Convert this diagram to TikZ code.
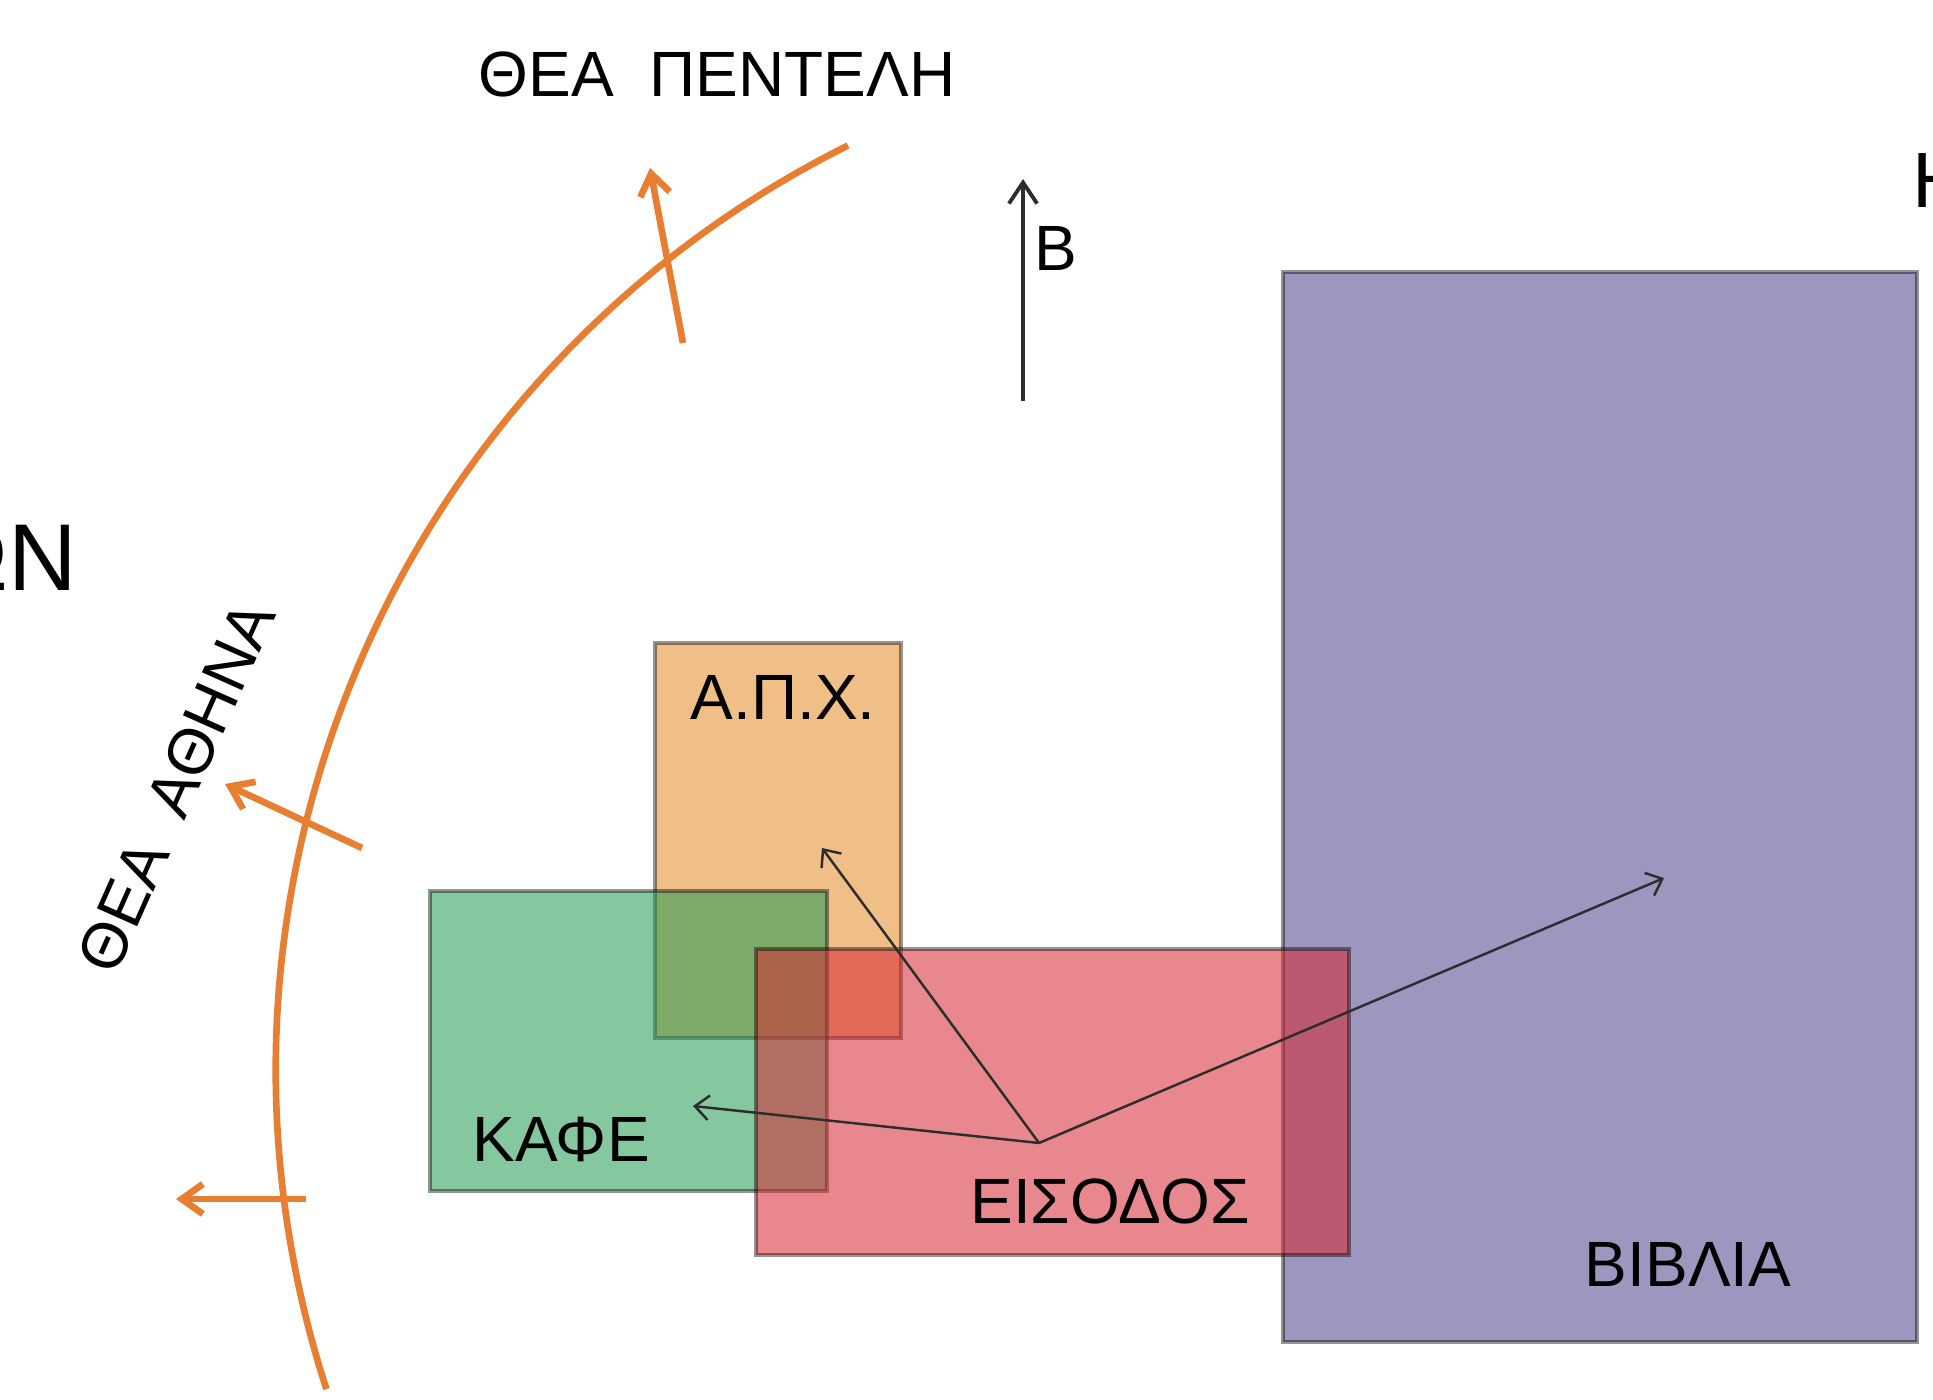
\documentclass[tikz,border=0pt]{standalone}
\usepackage{fontspec}
\setmainfont{Liberation Sans}
\usetikzlibrary{arrows.meta}

\definecolor{viewline}{RGB}{232,126,49}
\definecolor{apxfill}{RGB}{228,137,37}
\definecolor{kafefill}{RGB}{33,153,80}
\definecolor{eisodosfill}{RGB}{213,39,50}
\definecolor{vivliafill}{RGB}{77,66,139}
\definecolor{walkline}{RGB}{45,45,45}

\begin{document}
\begin{tikzpicture}[x=0.01cm, y=-0.01cm,
  zone/.style={rectangle, draw=black, draw opacity=0.42, line width=1.2pt, fill opacity=0.55, inner sep=0pt, outer sep=0pt},
  lbl/.style={inner sep=0pt, font=\fontsize{18.2}{20}\selectfont},
  view/.style={draw=viewline, line width=1.9pt, -{Straight Barb[length=6pt, width=8.5pt]}},
  northline/.style={draw=walkline, line width=1.1pt, -{Straight Barb[length=6pt, width=8pt]}},
  walk/.style={draw=walkline, line width=0.7pt, -{Straight Barb[length=4pt, width=7pt]}}]
\useasboundingbox (0,0) rectangle (1933,1400);
\node[zone, fill=apxfill, minimum width=2.46cm, minimum height=3.95cm] (apx) at (778,840.5) {};
\node[zone, fill=kafefill, minimum width=3.97cm, minimum height=3.00cm] (kafe) at (628.5,1041) {};
\node[zone, fill=vivliafill, minimum width=6.34cm, minimum height=10.70cm] (vivlia) at (1600,807) {};
\node[zone, fill=eisodosfill, minimum width=5.93cm, minimum height=3.06cm] (eisodos) at (1052.5,1102) {};
\node[lbl, anchor=base] (apxlbl) at (783,719) {Α.Π.Χ.};
\node[lbl, anchor=base] (kafelbl) at (561,1161) {ΚΑΦΕ};
\node[lbl, anchor=base] (eisodoslbl) at (1110,1223) {ΕΙΣΟΔΟΣ};
\node[lbl, anchor=base] (vivlialbl) at (1688,1286) {ΒΙΒΛΙΑ};
\coordinate (door) at (1039,1143);
\coordinate (apxend) at (822,848);
\coordinate (kafeend) at (693,1106);
\coordinate (vivliaend) at (1664,878);
\draw[walk] (door) -- (apxend);
\draw[walk] (door) -- (kafeend);
\draw[walk] (door) -- (vivliaend);
\coordinate (arctop) at (848,145.5);
\draw[viewline, line width=1.9pt] (arctop) arc[start angle=243.5, end angle=162, radius=1033];
\coordinate (pentail) at (683,343);
\coordinate (pentip) at (650,168);
\coordinate (athtail) at (362,848);
\coordinate (athtip) at (225,784);
\coordinate (westtail) at (306,1199);
\coordinate (westtip) at (176,1199);
\draw[view] (pentail) -- (pentip);
\draw[view] (athtail) -- (athtip);
\draw[view] (westtail) -- (westtip);
\node[lbl, anchor=base] (pentlbl) at (717,97) {ΘΕΑ\ \ ΠΕΝΤΕΛΗ};
\node[lbl, rotate=66] (athlbl) at (176,787) {ΘΕΑ\ \ ΑΘΗΝΑ};
\coordinate (nbase) at (1023,401);
\coordinate (ntip) at (1023,179);
\draw[northline] (nbase) -- (ntip);
\node[lbl, anchor=base west] (northlbl) at (1034,271) {Β};
\node[inner sep=0pt, anchor=base east, font=\fontsize{27}{30}\selectfont] (lefttitle) at (78,590) {ΩΝ};
\node[inner sep=0pt, anchor=base west, font=\fontsize{22.3}{24}\selectfont] (righttitle) at (1912,208) {Η};
\end{tikzpicture}
\end{document}
